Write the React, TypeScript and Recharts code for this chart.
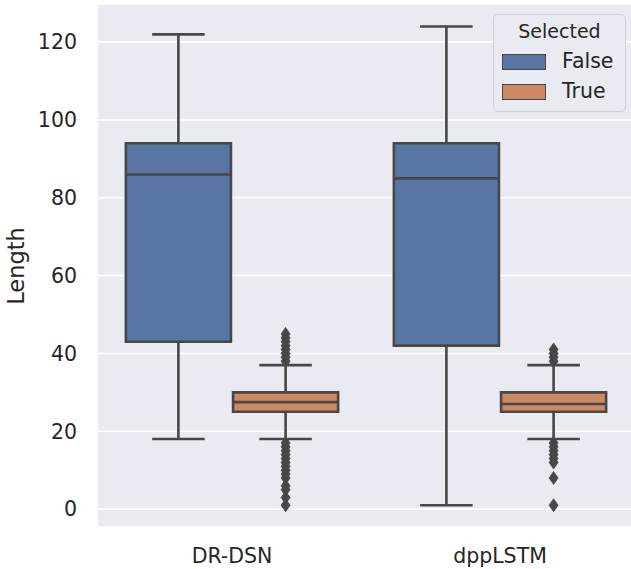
import {
  ComposedChart,
  CartesianGrid,
  XAxis,
  YAxis,
  ReferenceArea,
  ReferenceLine,
  Scatter,
  Legend,
} from "recharts";

const categories = ["DR-DSN", "dppLSTM"];
const hueLabels = ["False", "True"];
const hueColors = ["#5975a4", "#cc8963"];
const yTicks = [0, 20, 40, 60, 80, 100, 120];

// Selected = False
const falseLow = [18, 1];
const falseQ1 = [43, 42];
const falseMedian = [86, 85];
const falseQ3 = [94, 94];
const falseHigh = [122, 124];

// Selected = True
const trueLow = [18, 18];
const trueQ1 = [25, 25];
const trueMedian = [27.5, 27];
const trueQ3 = [30, 30];
const trueHigh = [37, 37];

const drdsnTrueOutliers = [38, 39, 40, 41, 42, 43, 44, 45, 17, 16, 15, 14, 13, 12, 11, 10, 9, 8, 6, 5, 3, 1];
const dpplstmTrueOutliers = [38, 39, 40, 41, 17, 16, 15, 14, 13, 12, 8, 1];

const EDGE = "#474747";
const TEXT = "#262626";
const FONT = "'DejaVu Sans', sans-serif";
const BOX_HALF = 0.196;
const CAP_HALF = 0.098;
const HUE_OFFSET = 0.2;

const boxes = categories.flatMap((_, i) => [
  { center: i - HUE_OFFSET, color: hueColors[0], low: falseLow[i], q1: falseQ1[i], med: falseMedian[i], q3: falseQ3[i], high: falseHigh[i] },
  { center: i + HUE_OFFSET, color: hueColors[1], low: trueLow[i], q1: trueQ1[i], med: trueMedian[i], q3: trueQ3[i], high: trueHigh[i] },
]);

const outlierData = [
  ...drdsnTrueOutliers.map((y) => ({ x: 0 + HUE_OFFSET, y })),
  ...dpplstmTrueOutliers.map((y) => ({ x: 1 + HUE_OFFSET, y })),
];

const Diamond = (props: any) => {
  const { cx, cy } = props;
  if (cx == null || cy == null) return null;
  return (
    <path
      d={`M${cx},${cy - 6.5} L${cx + 4.5},${cy} L${cx},${cy + 6.5} L${cx - 4.5},${cy} Z`}
      fill={EDGE}
      stroke={EDGE}
      strokeWidth={0.8}
    />
  );
};

const LegendBox = () => (
  <div
    style={{
      width: 131,
      height: 96,
      border: "1px solid #cfcfd6",
      borderRadius: 5,
      background: "#eaeaf2",
      fontFamily: FONT,
      color: TEXT,
      position: "relative",
    }}
  >
    <div style={{ position: "absolute", top: 5, left: 0, width: 131, textAlign: "center", fontSize: 19, lineHeight: "22px" }}>
      Selected
    </div>
    {hueLabels.map((label, i) => (
      <div key={label} style={{ position: "absolute", top: 37 + i * 30, left: 8, display: "flex", alignItems: "center" }}>
        <div style={{ width: 42, height: 14, background: hueColors[i], border: `1.3px solid ${EDGE}` }} />
        <span style={{ marginLeft: 16, fontSize: 20.5, lineHeight: "20px", position: "relative", top: -1 }}>{label}</span>
      </div>
    ))}
  </div>
);

export default function App() {
  return (
    <div style={{ position: "absolute", left: 0, top: 0, width: 631, height: 569, overflow: "hidden", background: "#fff" }}>
      <ComposedChart width={640} height={569} margin={{ top: 4, right: 6, bottom: 0, left: 0 }}>
        <CartesianGrid vertical={false} stroke="#ffffff" strokeWidth={1.6} fill="#eaeaf2" />
        <XAxis
          type="number"
          dataKey="x"
          domain={[-0.5, 1.5]}
          ticks={[0, 1]}
          allowDataOverflow
          tickFormatter={(v: number) => categories[v] ?? ""}
          axisLine={false}
          tickLine={false}
          tickSize={0}
          tickMargin={21}
          height={42}
          tick={{ fill: TEXT, fontSize: 20.5, fontFamily: FONT }}
        />
        <YAxis
          type="number"
          dataKey="y"
          domain={[-4.6, 129.8]}
          ticks={yTicks}
          allowDataOverflow
          axisLine={false}
          tickLine={false}
          tickSize={0}
          tickMargin={21}
          width={98}
          tick={{ fill: TEXT, fontSize: 20.5, fontFamily: FONT }}
          label={{
            content: () => (
              <text
                x={24}
                y={266}
                transform="rotate(-90 24 266)"
                textAnchor="middle"
                fill={TEXT}
                fontSize={22.5}
                fontFamily={FONT}
              >
                Length
              </text>
            ),
          }}
        />
        {boxes.map((b, i) => (
          <ReferenceLine
            key={`wl${i}`}
            segment={[{ x: b.center, y: b.low }, { x: b.center, y: b.q1 }]}
            stroke={EDGE}
            strokeWidth={2.6}
          />
        ))}
        {boxes.map((b, i) => (
          <ReferenceLine
            key={`wh${i}`}
            segment={[{ x: b.center, y: b.q3 }, { x: b.center, y: b.high }]}
            stroke={EDGE}
            strokeWidth={2.6}
          />
        ))}
        {boxes.map((b, i) => (
          <ReferenceLine
            key={`cl${i}`}
            segment={[{ x: b.center - CAP_HALF, y: b.low }, { x: b.center + CAP_HALF, y: b.low }]}
            stroke={EDGE}
            strokeWidth={2.6}
          />
        ))}
        {boxes.map((b, i) => (
          <ReferenceLine
            key={`ch${i}`}
            segment={[{ x: b.center - CAP_HALF, y: b.high }, { x: b.center + CAP_HALF, y: b.high }]}
            stroke={EDGE}
            strokeWidth={2.6}
          />
        ))}
        {boxes.map((b, i) => (
          <ReferenceArea
            key={`box${i}`}
            x1={b.center - BOX_HALF}
            x2={b.center + BOX_HALF}
            y1={b.q1}
            y2={b.q3}
            fill={b.color}
            fillOpacity={1}
            stroke={EDGE}
            strokeWidth={2.6}
          />
        ))}
        {boxes.map((b, i) => (
          <ReferenceLine
            key={`med${i}`}
            segment={[{ x: b.center - BOX_HALF, y: b.med }, { x: b.center + BOX_HALF, y: b.med }]}
            stroke={EDGE}
            strokeWidth={2.6}
          />
        ))}
        <Scatter data={outlierData} dataKey="y" shape={Diamond} isAnimationActive={false} />
        <Legend
          layout="horizontal"
          verticalAlign="middle"
          align="center"
          content={() => <LegendBox />}
          wrapperStyle={{ top: 14, left: 493, width: 133, height: 98 }}
        />
      </ComposedChart>
    </div>
  );
}
